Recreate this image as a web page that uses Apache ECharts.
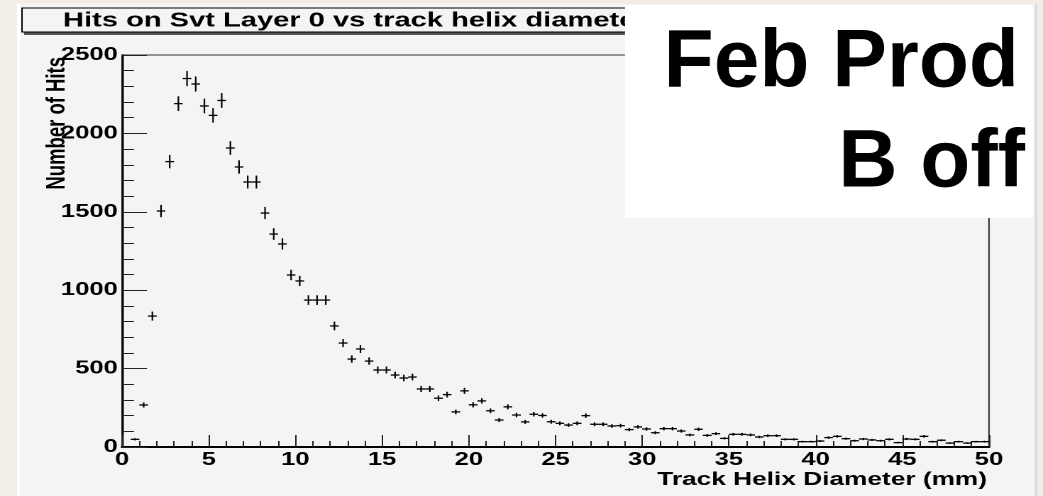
<!DOCTYPE html>
<html>
<head>
<meta charset="utf-8">
<script src="https://cdn.jsdelivr.net/npm/echarts/dist/echarts.min.js"></script>
<style>
html,body{margin:0;padding:0;background:#f2eee7;width:1043px;height:496px;overflow:hidden;}
#chart{position:absolute;left:0;top:0;width:735px;height:496px;transform-origin:0 0;}
</style>
</head>
<body>
<div id="chart"></div>
<script>
// ---- data ----
const titleText = 'Hits on Svt Layer 0 vs track helix diameter';
const xTitle = 'Track Helix Diameter (mm)';
const yTitle = 'Number of Hits';
const boxLines = ['Feb Prod', 'B off'];
const xTicks = [0, 5, 10, 15, 20, 25, 30, 35, 40, 45, 50];
const yTicks = [0, 500, 1000, 1500, 2000, 2500];
const binWidth = 0.5;
const binCenters = [
  0.25, 0.75, 1.25, 1.75, 2.25, 2.75, 3.25, 3.75, 4.25, 4.75,
  5.25, 5.75, 6.25, 6.75, 7.25, 7.75, 8.25, 8.75, 9.25, 9.75,
  10.25, 10.75, 11.25, 11.75, 12.25, 12.75, 13.25, 13.75, 14.25, 14.75,
  15.25, 15.75, 16.25, 16.75, 17.25, 17.75, 18.25, 18.75, 19.25, 19.75,
  20.25, 20.75, 21.25, 21.75, 22.25, 22.75, 23.25, 23.75, 24.25, 24.75,
  25.25, 25.75, 26.25, 26.75, 27.25, 27.75, 28.25, 28.75, 29.25, 29.75,
  30.25, 30.75, 31.25, 31.75, 32.25, 32.75, 33.25, 33.75, 34.25, 34.75,
  35.25, 35.75, 36.25, 36.75, 37.25, 37.75, 38.25, 38.75, 39.25, 39.75,
  40.25, 40.75, 41.25, 41.75, 42.25, 42.75, 43.25, 43.75, 44.25, 44.75,
  45.25, 45.75, 46.25, 46.75, 47.25, 47.75, 48.25, 48.75, 49.25, 49.75
];
const hits = [
  0, 49, 268, 835, 1505, 1820, 2190, 2350, 2315, 2175,
  2115, 2210, 1907, 1786, 1690, 1690, 1492, 1358, 1295, 1097,
  1059, 937, 937, 937, 772, 663, 561, 625, 548, 491,
  491, 459, 440, 446, 370, 370, 311, 334, 224, 358,
  269, 294, 231, 172, 256, 204, 160, 209, 201, 161,
  151, 140, 151, 200, 145, 145, 134, 136, 111, 128,
  115, 91, 117, 117, 102, 77, 113, 74, 85, 55,
  81, 81, 77, 64, 72, 72, 49, 49, 34, 34,
  38, 60, 68, 53, 40, 51, 45, 40, 49, 28,
  51, 49, 68, 34, 43, 25, 34, 25, 34, 34
];

// ---- layout (the original picture is horizontally stretched) ----
const W = 735, S = 1043 / W;
document.getElementById('chart').style.transform = 'scaleX(' + S + ')';
const X = px => px / S;   // screen px -> chart space

const chart = echarts.init(document.getElementById('chart'), null, {renderer: 'canvas', devicePixelRatio: 2});
const FONT = 'Liberation Sans, Arial, Helvetica, sans-serif';

const data = binCenters.map((c, i) => [c, hits[i]]);

const option = {
  animation: false,
  backgroundColor: 'transparent',
  grid: {left: X(122), right: W - X(989), top: 55, bottom: 49, show: true,
         borderColor: '#333', borderWidth: 1, backgroundColor: 'transparent'},
  xAxis: {
    type: 'value', min: xTicks[0], max: xTicks[xTicks.length - 1], interval: xTicks[1] - xTicks[0],
    axisLine: {show: true, onZero: false, lineStyle: {color: '#000', width: 2}},
    axisTick: {show: true, inside: true, length: 12, lineStyle: {color: '#222', width: 1}},
    minorTick: {show: true, splitNumber: 5, length: 6, lineStyle: {color: '#222', width: 1}},
    splitLine: {show: false},
    axisLabel: {color: '#000', fontFamily: FONT, fontWeight: 'bold', fontSize: 18, margin: 4,
                showMinLabel: true, showMaxLabel: true, formatter: v => String(v)}
  },
  yAxis: {
    type: 'value', min: yTicks[0], max: yTicks[yTicks.length - 1], interval: yTicks[1] - yTicks[0],
    axisLine: {show: true, onZero: false, lineStyle: {color: '#000', width: 1.4}},
    axisTick: {show: true, inside: true, length: X(25), lineStyle: {color: '#222', width: 1}},
    minorTick: {show: true, splitNumber: 5, length: X(12), lineStyle: {color: '#222', width: 1}},
    splitLine: {show: false},
    axisLabel: {color: '#000', fontFamily: FONT, fontWeight: 'bold', fontSize: 18, margin: 3,
                showMinLabel: true, showMaxLabel: true, formatter: v => String(v)}
  },
  graphic: [
    // pad
    {type: 'rect', z: -100, shape: {x: X(17), y: 4, width: X(1035) - X(17), height: 492},
     style: {fill: '#f4f4f4', stroke: null}},
    {type: 'rect', z: -99, shape: {x: X(17), y: 4, width: X(3), height: 492},
     style: {fill: '#ffffff'}},
    {type: 'rect', z: -99, shape: {x: X(1035), y: 4, width: X(2), height: 492},
     style: {fill: '#d8d8d8'}},
    // title box with shadow
    {type: 'rect', z: 50, shape: {x: X(24), y: 10, width: X(720) - X(24), height: 25},
     style: {fill: '#555'}},
    {type: 'rect', z: 51, shape: {x: X(22), y: 8, width: X(718) - X(22), height: 24},
     style: {fill: '#f4f4f4', stroke: '#000', lineWidth: 1}},
    {type: 'text', z: 52, x: X(63), y: 21,
     style: {text: titleText, font: 'bold 20.5px ' + FONT, fill: '#000',
             align: 'left', verticalAlign: 'middle', textAlign: 'left', textVerticalAlign: 'middle'}},
    // axis titles
    {type: 'text', z: 52, x: X(57), y: 57, rotation: Math.PI / 2,
     style: {text: yTitle, font: 'bold 18.5px ' + FONT, fill: '#000',
             align: 'right', verticalAlign: 'middle', textAlign: 'right', textVerticalAlign: 'middle'}},
    {type: 'text', z: 52, x: X(987), y: 480,
     style: {text: xTitle, font: 'bold 18.5px ' + FONT, fill: '#000',
             align: 'right', verticalAlign: 'middle', textAlign: 'right', textVerticalAlign: 'middle'}},
    // white label box (not stretched)
    {type: 'rect', z: 100, shape: {x: X(625), y: 5, width: X(1033) - X(625), height: 213},
     style: {fill: '#ffffff'}},
    {type: 'text', z: 101, x: X(1019), y: 105, scaleX: 1 / S,
     style: {text: boxLines[0], font: 'bold 82px ' + FONT, fill: '#000',
             align: 'right', verticalAlign: 'bottom', textAlign: 'right', textVerticalAlign: 'bottom'}},
    {type: 'text', z: 101, x: X(1025), y: 205, scaleX: 1 / S,
     style: {text: boxLines[1], font: 'bold 82px ' + FONT, fill: '#000',
             align: 'right', verticalAlign: 'bottom', textAlign: 'right', textVerticalAlign: 'bottom'}}
  ],
  series: [{
    type: 'custom',
    z: 10,
    encode: {x: 0, y: 1},
    data: data,
    renderItem: function (params, api) {
      const x = api.value(0), y = api.value(1);
      if (!(y > 0)) return null;
      const e = Math.sqrt(y);
      const pL = api.coord([x - binWidth / 2, y]);
      const pR = api.coord([x + binWidth / 2, y]);
      const pT = api.coord([x, y + e]);
      const pB = api.coord([x, y - e]);
      return {
        type: 'group',
        children: [
          {type: 'line', shape: {x1: pL[0], y1: pL[1], x2: pR[0], y2: pR[1]},
           style: {stroke: '#000', lineWidth: 1.3}},
          {type: 'line', shape: {x1: pT[0], y1: pT[1], x2: pB[0], y2: pB[1]},
           style: {stroke: '#000', lineWidth: 1.1}}
        ]
      };
    }
  }]
};
chart.setOption(option);
</script>
</body>
</html>
